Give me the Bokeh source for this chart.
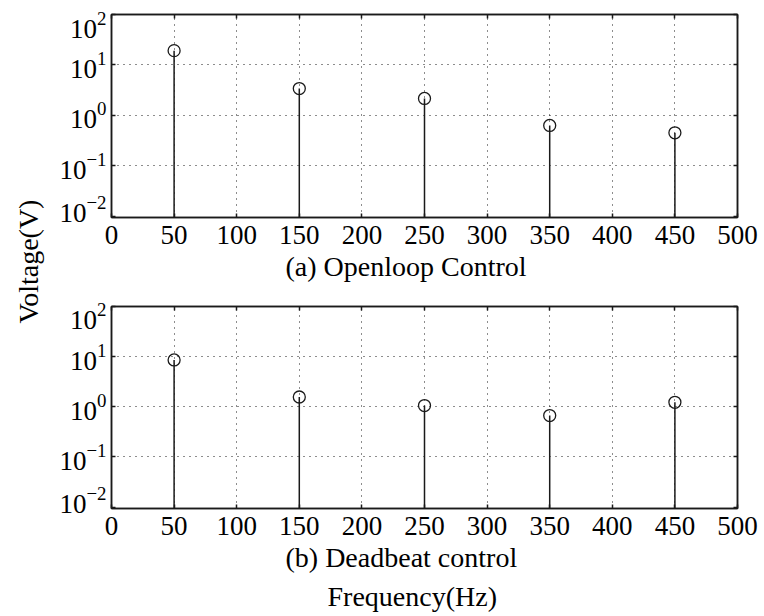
import math

from bokeh.embed import file_html
from bokeh.layouts import column, row
from bokeh.models import (ColumnDataSource, CustomJSTickFormatter, FixedTicker,
                          LinearAxis, LogAxis, LogTickFormatter, Range1d, Title, Label)
from bokeh.plotting import figure
from bokeh.resources import INLINE

# Harmonic spectrum of the output voltage
freq_hz = [50, 150, 250, 350, 450]
openloop_v = [19.2, 3.4, 2.16, 0.63, 0.45]
deadbeat_v = [8.6, 1.57, 1.06, 0.67, 1.23]

x_ticks = [0, 50, 100, 150, 200, 250, 300, 350, 400, 450, 500]
y_ticks = [0.01, 0.1, 1, 10, 100]

FONT = "Liberation Serif"
FS = "27px"
CAP_FS = "28px"
INK = "#1a1a1a"
Y_LOW, Y_HIGH = 0.0094, 100
FRAME_H = 203

# the end labels of the log axis sit a little inside the frame edges
PX_PER_DECADE = FRAME_H / math.log10(Y_HIGH / Y_LOW)
NUDGE_TOP_PX = 10
NUDGE_BOTTOM_PX = 7
label_pos = ([y_ticks[0] * 10 ** (NUDGE_BOTTOM_PX / PX_PER_DECADE)] + y_ticks[1:-1]
             + [y_ticks[-1] / 10 ** (NUDGE_TOP_PX / PX_PER_DECADE)])


def style_ticks(ax):
    ax.major_tick_in = 4
    ax.major_tick_out = 0
    ax.minor_tick_line_color = None
    ax.axis_line_color = INK
    ax.axis_line_width = 1.5
    ax.major_tick_line_color = INK
    ax.major_tick_line_width = 1.5


def panel(values, height, border_bottom):
    p = figure(width=714, height=height, output_backend="svg", toolbar_location=None,
               x_range=Range1d(0, 500), y_range=Range1d(Y_LOW, Y_HIGH), y_axis_type="log",
               min_border_left=61, min_border_right=27, min_border_top=14,
               min_border_bottom=border_bottom)
    p.outline_line_color = INK
    p.outline_line_width = 1.5
    p.background_fill_color = "white"
    p.border_fill_color = "white"

    blank = CustomJSTickFormatter(code="return ''")

    xa = p.xaxis[0]
    xa.ticker = FixedTicker(ticks=x_ticks)
    style_ticks(xa)
    xa.major_label_text_font = FONT
    xa.major_label_text_font_size = FS
    xa.major_label_text_color = "black"
    xa.major_label_standoff = 8

    # left edge: inward tick marks only
    ya = p.yaxis[0]
    ya.ticker = FixedTicker(ticks=y_ticks)
    ya.formatter = blank
    ya.major_label_text_font_size = "0px"
    ya.major_label_standoff = 0
    style_ticks(ya)

    # decade labels for the left edge
    lab = LogAxis(ticker=FixedTicker(ticks=label_pos), formatter=LogTickFormatter())
    lab.axis_line_color = None
    lab.major_tick_line_color = None
    lab.minor_tick_line_color = None
    lab.major_tick_in = 0
    lab.major_tick_out = 0
    lab.major_label_standoff = 5
    lab.major_label_text_font = FONT
    lab.major_label_text_font_size = FS
    lab.major_label_text_color = "black"
    p.add_layout(lab, "left")

    # mirrored tick marks on the top and right edges, no labels
    top = LinearAxis(ticker=FixedTicker(ticks=x_ticks), formatter=blank)
    right = LogAxis(ticker=FixedTicker(ticks=y_ticks), formatter=blank)
    for ax in (top, right):
        style_ticks(ax)
        ax.major_label_text_font_size = "0px"
        ax.major_label_standoff = 0
    p.add_layout(top, "above")
    p.add_layout(right, "right")

    for g in (p.xgrid[0], p.ygrid[0]):
        g.grid_line_color = INK
        g.grid_line_width = 1
        g.grid_line_dash = "1 5"
    p.xgrid.ticker = FixedTicker(ticks=x_ticks[1:-1])
    p.ygrid.ticker = FixedTicker(ticks=y_ticks[1:-1])

    src = ColumnDataSource(dict(f=freq_hz, v=values, base=[Y_LOW] * len(values)))
    p.segment(x0="f", y0="base", x1="f", y1="v", source=src, line_color=INK, line_width=1.5)
    p.scatter(x="f", y="v", source=src, size=12, marker="circle", fill_color=None,
              line_color=INK, line_width=1.3)
    return p


def caption(text, offset, standoff):
    return Title(text=text, align="left", offset=offset, text_font=FONT,
                 text_font_size=CAP_FS, text_font_style="normal", text_color="black",
                 standoff=standoff)


top_panel = panel(openloop_v, 292, 75)
top_panel.add_layout(caption("(a) Openloop Control", 174, 4), "below")

bottom_panel = panel(deadbeat_v, 324, 107)
bottom_panel.add_layout(caption("(b) Deadbeat control", 174, 4), "below")
bottom_panel.add_layout(caption("Frequency(Hz)", 216, 9), "below")

# shared y-axis caption
ylab = figure(width=50, height=616, output_backend="svg", toolbar_location=None,
              x_range=Range1d(0, 50), y_range=Range1d(0, 616),
              min_border=0, outline_line_color=None)
ylab.axis.visible = False
ylab.grid.visible = False
ylab.add_layout(Label(x=28, y=616 - 261, text="Voltage(V)", angle=math.pi / 2,
                      text_align="center", text_baseline="middle", text_font=FONT,
                      text_font_size=CAP_FS, text_color="black"))

layout = row(ylab, column(top_panel, bottom_panel, spacing=0), spacing=0)
open("out.html", "w").write(file_html(layout, INLINE))
